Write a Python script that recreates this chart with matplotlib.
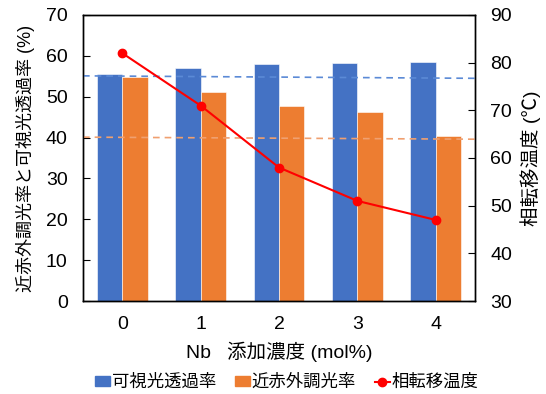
import matplotlib
matplotlib.use("Agg")
import matplotlib.pyplot as plt
import numpy as np
from matplotlib.lines import Line2D
from matplotlib.patches import Patch

plt.rcParams['font.family'] = ['Liberation Sans', 'Noto Sans CJK JP', 'DejaVu Sans']

categories = ["0", "1", "2", "3", "4"]
visible_trans = [55.5, 57.0, 57.9, 58.2, 58.4]
nir_mod = [54.9, 51.2, 47.8, 46.2, 40.4]
transition_temp = [82, 71, 58, 51, 47]
visible_trend = [55.1, 54.5]
nir_trend = [40.1, 39.6]

blue = "#4472C4"
orange = "#ED7D31"
red = "#FF0000"

fig = plt.figure(figsize=(5.46, 3.94), dpi=100)
ax = fig.add_axes([0.152, 0.236, 0.718, 0.726])
x = np.arange(len(categories))
w = 0.325

ax.bar(x - w / 2, visible_trans, width=w, color=blue, edgecolor="white", linewidth=0.4, zorder=2)
ax.bar(x + w / 2, nir_mod, width=w, color=orange, edgecolor="white", linewidth=0.4, zorder=2)

ends = [-0.5, len(categories) - 0.5]
ax.plot(ends, visible_trend, linestyle=(0, (4, 3)), color="#5B8AD6", linewidth=1.2, zorder=3)
ax.plot(ends, nir_trend, linestyle=(0, (4, 3)), color="#F0A070", linewidth=1.2, zorder=3)

ax.set_xlim(-0.5, len(categories) - 0.5)
ax.set_ylim(0, 70)
ax.set_yticks(np.arange(0, 71, 10))
ax.set_xticks(x)
ax.set_xticklabels(categories)
ax.tick_params(axis="y", direction="in", length=5, labelsize=14, pad=11)
ax.tick_params(axis="x", length=0, labelsize=14, pad=11)
ax.set_xlabel("Nb   添加濃度 (mol%)", fontsize=14, labelpad=6)
ax.set_ylabel("近赤外調光率と可視光透過率 (%)", fontsize=13, labelpad=8)

ax2 = ax.twinx()
ax2.plot(x, transition_temp, color=red, marker="o", markersize=6, linewidth=1.5, zorder=4)
ax2.set_ylim(30, 90)
ax2.set_yticks(np.arange(30, 91, 10))
ax2.tick_params(axis="y", direction="in", length=5, labelsize=14, pad=11)
ax2.set_ylabel("相転移温度 (℃)", fontsize=14, labelpad=6)

for a in (ax, ax2):
    for s in a.spines.values():
        s.set_linewidth(1.0)
        s.set_color("black")

handles = [
    Patch(color=blue, label="可視光透過率"),
    Patch(color=orange, label="近赤外調光率"),
    Line2D([0], [0], color=red, marker="o", markersize=6, linewidth=1.5, label="相転移温度"),
]
fig.legend(handles=handles, loc="center", bbox_to_anchor=(0.525, 0.03), ncol=3,
           frameon=False, fontsize=12.5, handlelength=0.86, handleheight=0.5,
           handletextpad=0.1, columnspacing=1.1)

fig.savefig("out.png", dpi=100)
